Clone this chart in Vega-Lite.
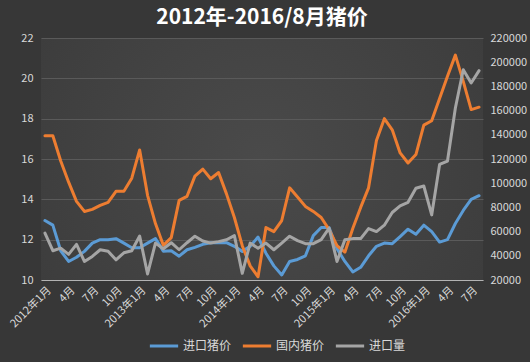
{
  "$schema": "https://vega.github.io/schema/vega-lite/v6.json",
  "width": 442,
  "height": 242,
  "autosize": {"type": "none"},
  "padding": {"left": 41, "top": 38, "right": 47, "bottom": 82},
  "background": "#373737",
  "title": {"text": "2012年-2016/8月猪价", "color": "#ffffff", "fontSize": 21, "fontWeight": "bold", "font": "Noto Sans CJK SC", "anchor": "middle", "offset": 4},
  "data": {"values": [
    {"m": "2012年1月", "进口猪价": 12.95, "国内猪价": 17.15, "进口量": 58800},
    {"m": "2012年2月", "进口猪价": 12.72, "国内猪价": 17.15, "进口量": 44200},
    {"m": "2012年3月", "进口猪价": 11.45, "国内猪价": 15.9, "进口量": 46300},
    {"m": "2012年4月", "进口猪价": 10.92, "国内猪价": 14.85, "进口量": 41200},
    {"m": "2012年5月", "进口猪价": 11.13, "国内猪价": 13.9, "进口量": 49500},
    {"m": "2012年6月", "进口猪价": 11.42, "国内猪价": 13.4, "进口量": 35300},
    {"m": "2012年7月", "进口猪价": 11.83, "国内猪价": 13.5, "进口量": 39500},
    {"m": "2012年8月", "进口猪价": 12.0, "国内猪价": 13.7, "进口量": 45000},
    {"m": "2012年9月", "进口猪价": 12.0, "国内猪价": 13.85, "进口量": 43700},
    {"m": "2012年10月", "进口猪价": 12.05, "国内猪价": 14.4, "进口量": 36700},
    {"m": "2012年11月", "进口猪价": 11.83, "国内猪价": 14.4, "进口量": 42500},
    {"m": "2012年12月", "进口猪价": 11.6, "国内猪价": 15.05, "进口量": 44200},
    {"m": "2013年1月", "进口猪价": 11.6, "国内猪价": 16.45, "进口量": 56300},
    {"m": "2013年2月", "进口猪价": 11.83, "国内猪价": 14.2, "进口量": 25000},
    {"m": "2013年3月", "进口猪价": 12.05, "国内猪价": 12.8, "进口量": 50500},
    {"m": "2013年4月", "进口猪价": 11.43, "国内猪价": 11.72, "进口量": 45800},
    {"m": "2013年5月", "进口猪价": 11.45, "国内猪价": 12.1, "进口量": 50800},
    {"m": "2013年6月", "进口猪价": 11.18, "国内猪价": 13.95, "进口量": 45000},
    {"m": "2013年7月", "进口猪价": 11.5, "国内猪价": 14.15, "进口量": 50800},
    {"m": "2013年8月", "进口猪价": 11.62, "国内猪价": 15.15, "进口量": 56200},
    {"m": "2013年9月", "进口猪价": 11.77, "国内猪价": 15.5, "进口量": 52200},
    {"m": "2013年10月", "进口猪价": 11.85, "国内猪价": 15.02, "进口量": 50500},
    {"m": "2013年11月", "进口猪价": 11.85, "国内猪价": 15.33, "进口量": 51700},
    {"m": "2013年12月", "进口猪价": 11.85, "国内猪价": 14.27, "进口量": 53300},
    {"m": "2014年1月", "进口猪价": 11.67, "国内猪价": 13.1, "进口量": 56700},
    {"m": "2014年2月", "进口猪价": 11.42, "国内猪价": 11.7, "进口量": 25500},
    {"m": "2014年3月", "进口猪价": 11.67, "国内猪价": 10.7, "进口量": 50500},
    {"m": "2014年4月", "进口猪价": 12.13, "国内猪价": 10.16, "进口量": 46300},
    {"m": "2014年5月", "进口猪价": 11.33, "国内猪价": 12.6, "进口量": 50500},
    {"m": "2014年6月", "进口猪价": 10.7, "国内猪价": 12.4, "进口量": 45000},
    {"m": "2014年7月", "进口猪价": 10.25, "国内猪价": 12.95, "进口量": 50500},
    {"m": "2014年8月", "进口猪价": 10.92, "国内猪价": 14.57, "进口量": 56200},
    {"m": "2014年9月", "进口猪价": 11.02, "国内猪价": 14.12, "进口量": 52500},
    {"m": "2014年10月", "进口猪价": 11.2, "国内猪价": 13.65, "进口量": 50000},
    {"m": "2014年11月", "进口猪价": 12.2, "国内猪价": 13.4, "进口量": 50000},
    {"m": "2014年12月", "进口猪价": 12.6, "国内猪价": 13.1, "进口量": 53300},
    {"m": "2015年1月", "进口猪价": 12.6, "国内猪价": 12.5, "进口量": 62800},
    {"m": "2015年2月", "进口猪价": 11.55, "国内猪价": 11.7, "进口量": 35300},
    {"m": "2015年3月", "进口猪价": 10.92, "国内猪价": 11.38, "进口量": 53300},
    {"m": "2015年4月", "进口猪价": 10.4, "国内猪价": 12.55, "进口量": 54200},
    {"m": "2015年5月", "进口猪价": 10.63, "国内猪价": 13.6, "进口量": 54200},
    {"m": "2015年6月", "进口猪价": 11.2, "国内猪价": 14.57, "进口量": 62500},
    {"m": "2015年7月", "进口猪价": 11.67, "国内猪价": 16.92, "进口量": 60000},
    {"m": "2015年8月", "进口猪价": 11.83, "国内猪价": 18.0, "进口量": 65300},
    {"m": "2015年9月", "进口猪价": 11.8, "国内猪价": 17.45, "进口量": 75800},
    {"m": "2015年10月", "进口猪价": 12.15, "国内猪价": 16.3, "进口量": 81300},
    {"m": "2015年11月", "进口猪价": 12.52, "国内猪价": 15.8, "进口量": 84200},
    {"m": "2015年12月", "进口猪价": 12.27, "国内猪价": 16.22, "进口量": 95800},
    {"m": "2016年1月", "进口猪价": 12.72, "国内猪价": 17.68, "进口量": 97700},
    {"m": "2016年2月", "进口猪价": 12.4, "国内猪价": 17.9, "进口量": 73800},
    {"m": "2016年3月", "进口猪价": 11.88, "国内猪价": 19.0, "进口量": 115500},
    {"m": "2016年4月", "进口猪价": 12.0, "国内猪价": 20.1, "进口量": 118300},
    {"m": "2016年5月", "进口猪价": 12.8, "国内猪价": 21.15, "进口量": 162200},
    {"m": "2016年6月", "进口猪价": 13.45, "国内猪价": 19.85, "进口量": 193800},
    {"m": "2016年7月", "进口猪价": 14.0, "国内猪价": 18.45, "进口量": 182800},
    {"m": "2016年8月", "进口猪价": 14.18, "国内猪价": 18.57, "进口量": 193000}
  ]},
  "encoding": {
    "x": {
      "field": "m", "type": "ordinal", "sort": null,
      "scale": {"type": "point", "padding": 0.5},
      "axis": {
        "title": null, "labelAngle": -45, "labelColor": "#d9d9d9", "labelFontSize": 11,
        "labelFont": "Noto Sans CJK SC", "ticks": false, "domainColor": "#b3b3b3", "domainWidth": 1,
        "grid": false, "labelOverlap": false, "labelPadding": 4,
        "labelExpr": "indexof(datum.label, '年1月') > 0 ? datum.label : ((indexof(datum.label, '年4月') > 0 || indexof(datum.label, '年7月') > 0 || indexof(datum.label, '年10月') > 0) ? slice(datum.label, 5) : '')"
      }
    }
  },
  "layer": [
    {
      "transform": [{"fold": ["进口猪价", "国内猪价"], "as": ["series", "value"]}],
      "mark": {"type": "line", "strokeWidth": 3, "strokeJoin": "round", "strokeCap": "round"},
      "encoding": {
        "y": {
          "field": "value", "type": "quantitative",
          "scale": {"domain": [10, 22], "zero": false, "nice": false},
          "axis": {"title": null, "values": [10, 12, 14, 16, 18, 20, 22], "grid": true, "gridColor": "#5a5a5a",
                   "domain": false, "ticks": false, "labelColor": "#d9d9d9", "labelFontSize": 11,
                   "labelFont": "Noto Sans CJK SC", "labelPadding": 8}
        },
        "color": {
          "field": "series", "type": "nominal",
          "scale": {"domain": ["进口猪价", "国内猪价", "进口量"], "range": ["#5b9bd5", "#ed7d31", "#a5a5a5"]},
          "legend": {
            "title": null, "orient": "none", "direction": "horizontal", "legendX": 107, "legendY": 292,
            "symbolType": "stroke", "symbolStrokeWidth": 3, "symbolSize": 800,
            "labelColor": "#d9d9d9", "labelFontSize": 12, "labelFont": "Noto Sans CJK SC",
            "labelOffset": 3, "columnPadding": 4
          }
        }
      }
    },
    {
      "transform": [{"fold": ["进口量"], "as": ["series", "value"]}],
      "mark": {"type": "line", "strokeWidth": 3, "strokeJoin": "round", "strokeCap": "round"},
      "encoding": {
        "y": {
          "field": "value", "type": "quantitative",
          "scale": {"domain": [20000, 220000], "zero": false, "nice": false},
          "axis": {"title": null, "orient": "right", "format": "d",
                   "values": [20000, 40000, 60000, 80000, 100000, 120000, 140000, 160000, 180000, 200000, 220000],
                   "grid": false, "domain": false, "ticks": false, "labelColor": "#d9d9d9", "labelFontSize": 11,
                   "labelFont": "Noto Sans CJK SC", "labelPadding": 7}
        },
        "color": {"field": "series", "type": "nominal"}
      }
    }
  ],
  "resolve": {"scale": {"y": "independent"}},
  "config": {
    "view": {
      "stroke": null,
      "fill": {"gradient": "radial", "x1": 0.5, "y1": 0.5, "r1": 0, "x2": 0.5, "y2": 0.5, "r2": 0.75,
               "stops": [{"offset": 0, "color": "#4a4a4a"}, {"offset": 1, "color": "#393939"}]}
    }
  }
}
